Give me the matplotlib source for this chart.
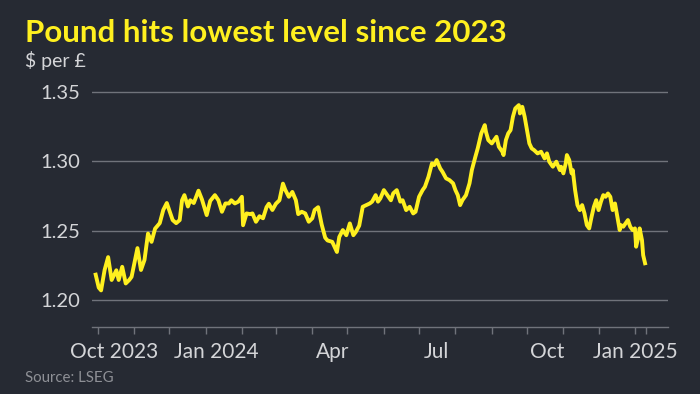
import numpy as np
import pandas as pd
import matplotlib
matplotlib.use("Agg")
import matplotlib.pyplot as plt
import matplotlib.dates as mdates
import matplotlib.transforms as mtransforms

# GBP/USD
dates = [
    "2023-09-29", "2023-10-02", "2023-10-04", "2023-10-07", "2023-10-10", "2023-10-13",
    "2023-10-17", "2023-10-19", "2023-10-22", "2023-10-25", "2023-10-28", "2023-10-30",
    "2023-11-02", "2023-11-04", "2023-11-07", "2023-11-10", "2023-11-13", "2023-11-16",
    "2023-11-19", "2023-11-23", "2023-11-26", "2023-11-29", "2023-12-01", "2023-12-04",
    "2023-12-07", "2023-12-10", "2023-12-12", "2023-12-14", "2023-12-17", "2023-12-19",
    "2023-12-22", "2023-12-26", "2023-12-29", "2024-01-02", "2024-01-05", "2024-01-09",
    "2024-01-12", "2024-01-15", "2024-01-18", "2024-01-21", "2024-01-23", "2024-01-26",
    "2024-01-29", "2024-02-01", "2024-02-02", "2024-02-05", "2024-02-08", "2024-02-10",
    "2024-02-13", "2024-02-16", "2024-02-19", "2024-02-22", "2024-02-24", "2024-02-27",
    "2024-03-01", "2024-03-04", "2024-03-07", "2024-03-09", "2024-03-12", "2024-03-15",
    "2024-03-18", "2024-03-20", "2024-03-23", "2024-03-26", "2024-03-29", "2024-04-01",
    "2024-04-03", "2024-04-06", "2024-04-09", "2024-04-12", "2024-04-14", "2024-04-18",
    "2024-04-22", "2024-04-24", "2024-04-27", "2024-04-30", "2024-05-03", "2024-05-06",
    "2024-05-08", "2024-05-11", "2024-05-14", "2024-05-17", "2024-05-20", "2024-05-22",
    "2024-05-25", "2024-05-27", "2024-05-29", "2024-06-01", "2024-06-04", "2024-06-07",
    "2024-06-09", "2024-06-12", "2024-06-15", "2024-06-17", "2024-06-20", "2024-06-23",
    "2024-06-26", "2024-06-28", "2024-07-01", "2024-07-04", "2024-07-06", "2024-07-09",
    "2024-07-12", "2024-07-14", "2024-07-16", "2024-07-19", "2024-07-21", "2024-07-24",
    "2024-07-27", "2024-07-30", "2024-08-01", "2024-08-03", "2024-08-05", "2024-08-07",
    "2024-08-10", "2024-08-13", "2024-08-15", "2024-08-18", "2024-08-20", "2024-08-23",
    "2024-08-26", "2024-08-27", "2024-08-29", "2024-09-01", "2024-09-03", "2024-09-05",
    "2024-09-07", "2024-09-10", "2024-09-11", "2024-09-13", "2024-09-15", "2024-09-17",
    "2024-09-19", "2024-09-21", "2024-09-24", "2024-09-25", "2024-09-27", "2024-09-29",
    "2024-10-01", "2024-10-03", "2024-10-05", "2024-10-07", "2024-10-10", "2024-10-13",
    "2024-10-16", "2024-10-18", "2024-10-20", "2024-10-23", "2024-10-26", "2024-10-29",
    "2024-10-30", "2024-11-01", "2024-11-03", "2024-11-04", "2024-11-06", "2024-11-08",
    "2024-11-09", "2024-11-11", "2024-11-13", "2024-11-15", "2024-11-17", "2024-11-19",
    "2024-11-21", "2024-11-23", "2024-11-25", "2024-11-27", "2024-11-29", "2024-12-01",
    "2024-12-03", "2024-12-05", "2024-12-07", "2024-12-09", "2024-12-11", "2024-12-13",
    "2024-12-15", "2024-12-17", "2024-12-19", "2024-12-20", "2024-12-22", "2024-12-24",
    "2024-12-26", "2024-12-28", "2024-12-30", "2025-01-01", "2025-01-02", "2025-01-04",
    "2025-01-05", "2025-01-07", "2025-01-08", "2025-01-10",
]
rate = [
    1.2197, 1.2090, 1.2070, 1.2217, 1.2310, 1.2145,
    1.2215, 1.2145, 1.2240, 1.2120, 1.2145, 1.2168,
    1.2290, 1.2375, 1.2217, 1.2290, 1.2480, 1.2420,
    1.2515, 1.2555, 1.2650, 1.2700, 1.2650, 1.2577,
    1.2555, 1.2577, 1.2720, 1.2757, 1.2675, 1.2720,
    1.2700, 1.2789, 1.2725, 1.2613, 1.2715, 1.2757,
    1.2720, 1.2637, 1.2697, 1.2697, 1.2720, 1.2697,
    1.2710, 1.2745, 1.2540, 1.2625, 1.2620, 1.2625,
    1.2565, 1.2605, 1.2590, 1.2670, 1.2695, 1.2650,
    1.2695, 1.2720, 1.2840, 1.2795, 1.2745, 1.2780,
    1.2720, 1.2620, 1.2637, 1.2625, 1.2565, 1.2590,
    1.2650, 1.2670, 1.2545, 1.2450, 1.2430, 1.2420,
    1.2347, 1.2455, 1.2505, 1.2468, 1.2553, 1.2468,
    1.2490, 1.2537, 1.2673, 1.2685, 1.2697, 1.2710,
    1.2757, 1.2710, 1.2733, 1.2793, 1.2757, 1.2720,
    1.2770, 1.2793, 1.2710, 1.2720, 1.2649, 1.2673,
    1.2625, 1.2637, 1.2745, 1.2793, 1.2817, 1.2889,
    1.2986, 1.2974, 1.3010, 1.2950, 1.2925, 1.2878,
    1.2865, 1.2842, 1.2793, 1.2757, 1.2685, 1.2721,
    1.2757, 1.2842, 1.2938, 1.3034, 1.3094, 1.3202,
    1.3262, 1.3214, 1.3154, 1.3130, 1.3154, 1.3178,
    1.3106, 1.3070, 1.3046, 1.3154, 1.3202, 1.3226,
    1.3322, 1.3382, 1.3406, 1.3346, 1.3394, 1.3322,
    1.3226, 1.3130, 1.3094, 1.3082, 1.3058, 1.3070,
    1.3022, 1.3058, 1.2998, 1.2962, 1.2998, 1.2938,
    1.2962, 1.2914, 1.2986, 1.3046, 1.3010, 1.2914,
    1.2938, 1.2793, 1.2685, 1.2649, 1.2685, 1.2625,
    1.2541, 1.2517, 1.2600, 1.2673, 1.2721, 1.2649,
    1.2709, 1.2757, 1.2745, 1.2769, 1.2745, 1.2649,
    1.2697, 1.2600, 1.2505, 1.2541, 1.2529, 1.2553,
    1.2577, 1.2529, 1.2505, 1.2517, 1.2385, 1.2457,
    1.2517, 1.2432, 1.2324, 1.2252,
]

y_ticks = [1.20, 1.25, 1.30, 1.35]
tick_dates = pd.date_range("2023-10-01", "2025-01-01", freq="MS").tolist() + [pd.Timestamp("2025-01-10")]
label_texts = ["Oct 2023", "Jan 2024", "Apr", "Jul", "Oct", "Jan 2025"]
label_dates = ["2023-10-15", "2024-01-10", "2024-04-18", "2024-07-16", "2024-10-18", "2025-01-01"]

BG = "#262a33"
YELLOW = "#fff01f"
GRID = "#70737b"
TXT = "#d4d5d8"
FONT = ["Lato", "DejaVu Sans"]

plt.rcParams["font.family"] = FONT

fig = plt.figure(figsize=(7, 3.94), dpi=100, facecolor=BG)
ax = fig.add_axes([0.131, 0.1708, 0.823, 0.613], facecolor=BG)

x = pd.to_datetime(dates)
ax.plot(x, rate, color=YELLOW, lw=2.8, solid_joinstyle="round", solid_capstyle="butt", zorder=3)

ax.set_ylim(1.1808, 1.355)
ax.set_xlim(pd.Timestamp("2023-09-26"), pd.Timestamp("2025-01-29"))

ax.set_yticks(y_ticks)
ax.set_yticklabels([f"{v:.2f}" for v in y_ticks])
ax.tick_params(axis="y", length=0, pad=8, labelsize=14.5, labelcolor=TXT)
ax.yaxis.grid(True, color=GRID, lw=1)
ax.set_axisbelow(True)

ax.set_xticks(tick_dates)
ax.set_xticklabels([])
ax.tick_params(axis="x", length=5, width=1, color=GRID, direction="out")

for s in ["top", "right", "left"]:
    ax.spines[s].set_visible(False)
ax.spines["bottom"].set_color(GRID)
ax.spines["bottom"].set_linewidth(1)

trans = mtransforms.blended_transform_factory(ax.transData, ax.transAxes)
for lab, d in zip(label_texts, label_dates):
    ax.text(pd.Timestamp(d), -0.065, lab, transform=trans, ha="center", va="top",
            fontsize=15, color=TXT)

fig.text(25 / 700, 1 - 33 / 394, "Pound hits lowest level since 2023", fontsize=22.5,
         fontweight="bold", color=YELLOW, va="center", ha="left")
fig.text(25 / 700, 1 - 61 / 394, "$ per £", fontsize=14, color=TXT, va="center", ha="left")
fig.text(25 / 700, 1 - 378 / 394, "Source: LSEG", fontsize=10.8, color="#8e9096",
         va="center", ha="left")

fig.savefig("out.png", dpi=100, facecolor=BG)
